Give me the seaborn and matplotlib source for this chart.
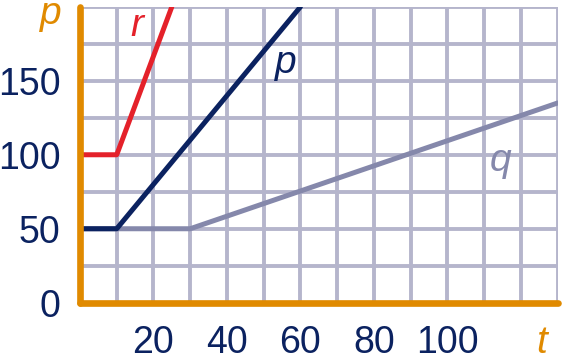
import matplotlib
matplotlib.use("Agg")
import matplotlib.pyplot as plt
import numpy as np
import pandas as pd
import seaborn as sns
from matplotlib.ticker import MultipleLocator

# chart data
r_t = [0, 10, 25]
r_p = [100, 100, 200]
p_t = [0, 10, 60]
p_p = [50, 50, 200]
q_t = [0, 30, 130]
q_p = [50, 50, 135]
x_ticks = [20, 40, 60, 80, 100]
y_ticks = [0, 50, 100, 150]

ORANGE = "#e08a00"
NAVY = "#0b2260"
RED = "#e4212a"
GREYBLUE = "#8588ab"
GRID = "#b5b5cc"

df = pd.concat([
    pd.DataFrame({"t": r_t, "p": r_p, "series": "r"}),
    pd.DataFrame({"t": p_t, "p": p_p, "series": "p"}),
    pd.DataFrame({"t": q_t, "p": q_p, "series": "q"}),
])

sns.set_style("white")
plt.rcParams["font.family"] = ["Liberation Sans", "DejaVu Sans"]

fig = plt.figure(figsize=(5.64, 3.57), dpi=100)
ax = fig.add_axes([0.1418, 0.152, 0.847, 0.829])

sns.lineplot(data=df, x="t", y="p", hue="series",
             palette={"r": RED, "p": NAVY, "q": GREYBLUE},
             hue_order=["q", "p", "r"],
             linewidth=3.6, legend=False, ax=ax, zorder=3)
for line in ax.lines:
    line.set_solid_capstyle("round")
    line.set_solid_joinstyle("round")

ax.set_xlim(0, 130)
ax.set_ylim(0, 200)
ax.set_xticks(x_ticks)
ax.set_yticks(y_ticks)
ax.xaxis.set_minor_locator(MultipleLocator(10))
ax.yaxis.set_minor_locator(MultipleLocator(25))
ax.grid(which="both", color=GRID, linewidth=2.8, zorder=1)
ax.set_axisbelow(True)
ax.tick_params(which="both", length=0, labelsize=27, colors=NAVY)
ax.tick_params(axis="y", pad=14)
ax.tick_params(axis="x", pad=16)
ax.set_xlabel("")
ax.set_ylabel("")

for side in ["top", "right"]:
    ax.spines[side].set_visible(False)
for side in ["left", "bottom"]:
    ax.spines[side].set_color(ORANGE)
    ax.spines[side].set_linewidth(4.8)
    ax.spines[side].set_capstyle("round")
    ax.spines[side].set_zorder(4)

# axis names and line labels
ax.text(-5, 195, "p", color=ORANGE, fontsize=28, style="italic",
        ha="right", va="center", clip_on=False)
ax.text(125.5, -27, "t", color=ORANGE, fontsize=28, style="italic",
        ha="center", va="center", clip_on=False)
ax.text(15.5, 187, "r", color=RED, fontsize=28, style="italic",
        ha="center", va="center")
ax.text(56, 162, "p", color=NAVY, fontsize=28, style="italic",
        ha="center", va="center")
ax.text(114.5, 96, "q", color=GREYBLUE, fontsize=28, style="italic",
        ha="center", va="center")

fig.savefig("out.png", dpi=100)
plt.close(fig)
